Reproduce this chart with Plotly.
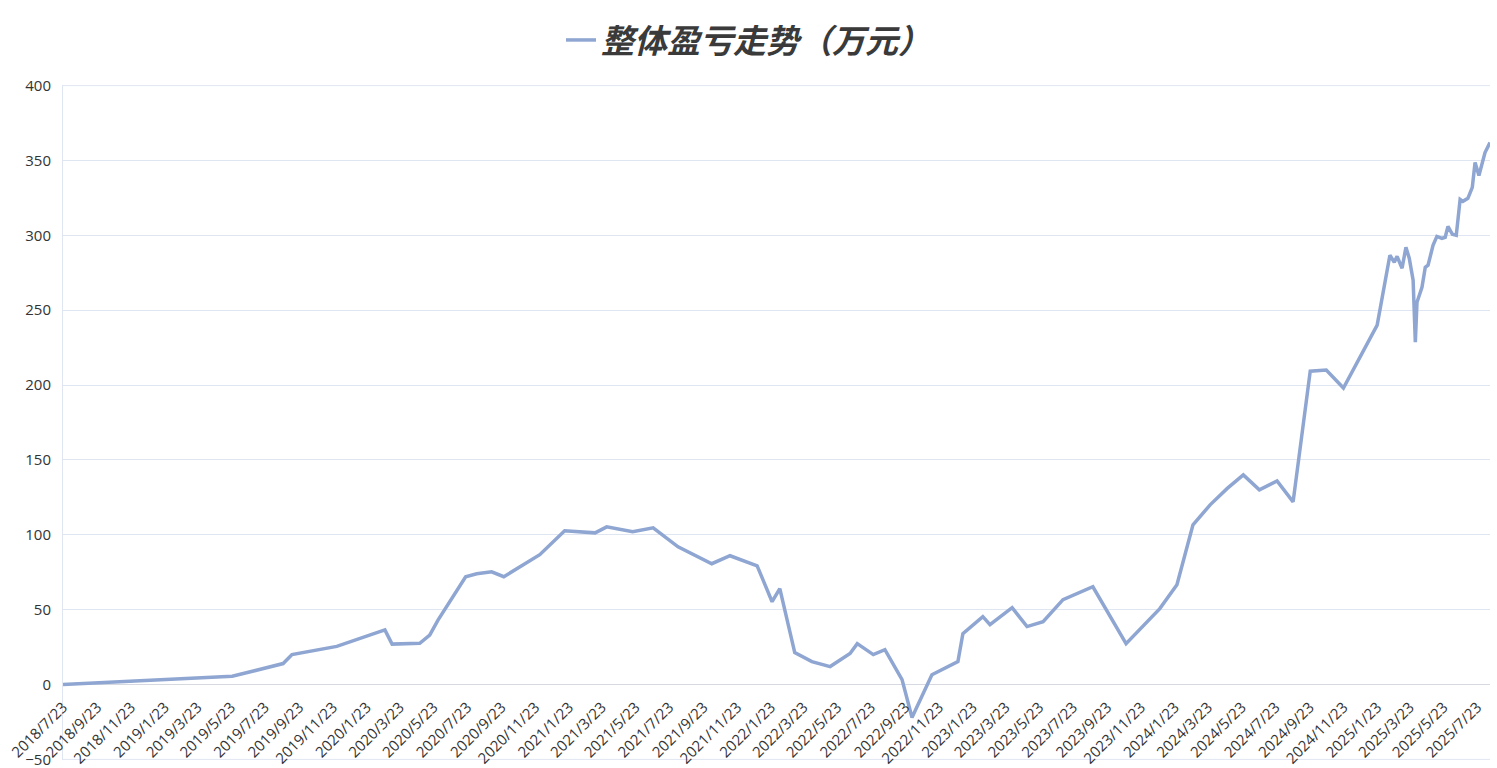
import plotly.graph_objects as go

# ---- data ----
dates = [
    "2018-07-23", "2019-05-25", "2019-08-25", "2019-09-10", "2019-11-30",
    "2020-02-25", "2020-03-09", "2020-04-28", "2020-05-16", "2020-05-31",
    "2020-07-20", "2020-08-09", "2020-09-05", "2020-09-27", "2020-12-01",
    "2021-01-15", "2021-03-11", "2021-04-01", "2021-05-18", "2021-06-24",
    "2021-08-08", "2021-09-22", "2021-10-08", "2021-11-10", "2021-12-29",
    "2022-01-25", "2022-02-08", "2022-03-07", "2022-04-07", "2022-05-10",
    "2022-06-15", "2022-06-28", "2022-07-27", "2022-08-17", "2022-09-17",
    "2022-10-05", "2022-11-10", "2022-12-27", "2023-01-05", "2023-02-10",
    "2023-02-23", "2023-04-04", "2023-05-01", "2023-05-30", "2023-07-05",
    "2023-08-28", "2023-10-27", "2023-12-27", "2024-01-27", "2024-02-25",
    "2024-03-27", "2024-04-27", "2024-05-26", "2024-06-24", "2024-07-26",
    "2024-08-24", "2024-09-24", "2024-10-23", "2024-11-23", "2025-01-23",
    "2025-02-15", "2025-02-23", "2025-02-28", "2025-03-09", "2025-03-16",
    "2025-03-22", "2025-03-29", "2025-04-02", "2025-04-05", "2025-04-14",
    "2025-04-20", "2025-04-25", "2025-05-04", "2025-05-11", "2025-05-20",
    "2025-05-26", "2025-05-31", "2025-06-08", "2025-06-15", "2025-06-22",
    "2025-06-27", "2025-07-06", "2025-07-14", "2025-07-19", "2025-07-26",
    "2025-08-06", "2025-08-15",
]
profit = [
    0, 5.5, 14, 20, 25.5,
    36.5, 27, 27.5, 33, 43,
    72, 74, 75.3, 72, 86.7,
    102.7, 101.3, 105.3, 102, 104.7,
    92, 83.3, 80.7, 86, 79.3,
    55.3, 64, 21.3, 15.3, 12,
    20.7, 27.3, 20, 23.3, 3.3,
    -22, 6.5, 15.3, 34, 45.3,
    40, 51.3, 38.7, 42, 56.7,
    65.3, 27.3, 50.7, 66.7, 106.7,
    120, 131, 140, 130, 136,
    122, 209.3, 210, 198, 240,
    286.7, 282, 286, 278, 292,
    284.7, 270, 228.7, 255.3, 265.3,
    278.7, 280, 293.3, 299.3, 298,
    298.7, 306, 300.7, 300, 324,
    322.7, 324.7, 332, 348.7, 340,
    355.3, 362,
]
series_name = "整体盈亏走势（万元）"

# tick labels: every two months on the 23rd
tick_dates = []
tick_labels = []
for i in range(43):
    m0 = 7 + 2 * i - 1
    yy = 2018 + m0 // 12
    mm = m0 % 12 + 1
    tick_dates.append(f"{yy}-{mm:02d}-23")
    tick_labels.append(f"{yy}/{mm}/23")

y_ticks = [-50, 0, 50, 100, 150, 200, 250, 300, 350, 400]
y_min, y_max = -50, 400
pad = 0.4

fig = go.Figure()
fig.add_trace(go.Scatter(
    x=dates, y=profit, mode="lines",
    name="<b><i>" + series_name + "</i></b>",
    line=dict(color="#8ea6d1", width=3.5),
    hoverinfo="x+y",
))

zero_pos = (0 - (y_min - pad)) / (y_max - y_min + 2 * pad)

# frame lines at the bottom and top of the value range
for yv in (y_min, y_max):
    fig.add_shape(type="line", xref="paper", x0=0, x1=1, yref="y", y0=yv, y1=yv,
                  line=dict(color="#e0e6f1", width=1), layer="below")

fig.update_layout(
    width=1497, height=768,
    margin=dict(l=63, r=7, t=85, b=8, autoexpand=False),
    paper_bgcolor="white", plot_bgcolor="white",
    font=dict(family="Open Sans, Noto Sans CJK SC, sans-serif", color="#333333", size=15),
    showlegend=True,
    legend=dict(
        orientation="h", x=(561 - 63) / 1427, xanchor="left", y=1 + (85 - 40) / 675, yanchor="middle",
        font=dict(size=33, color="#3a3a3a", family="Noto Sans CJK SC, sans-serif"),
        itemwidth=30,
    ),
    xaxis=dict(
        type="date",
        range=["2018-07-23", "2025-08-15"],
        tickvals=tick_dates, ticktext=tick_labels,
        tickangle=-45,
        showgrid=False, zeroline=False, showline=False,
        anchor="free", position=zero_pos,
        tickfont=dict(size=15, color="#333333"),
        ticks="", automargin=False, ticklabelstandoff=10,
        ticklabeloverflow="allow",
    ),
    yaxis=dict(
        range=[y_min - pad, y_max + pad],
        tickvals=y_ticks,
        showgrid=True, gridcolor="#e0e6f1", gridwidth=1,
        zeroline=True, zerolinecolor="#d6d9e0", zerolinewidth=1,
        showline=True, linecolor="#e0e6f1", linewidth=1,
        tickfont=dict(size=15, color="#333333"),
        ticks="", ticklabelstandoff=8, automargin=False,
        ticklabeloverflow="allow",
    ),
)

fig.write_html(
    "out.html",
    config={"displayModeBar": False},
    post_script="document.body.style.margin='0';document.body.style.overflow='hidden';",
)
